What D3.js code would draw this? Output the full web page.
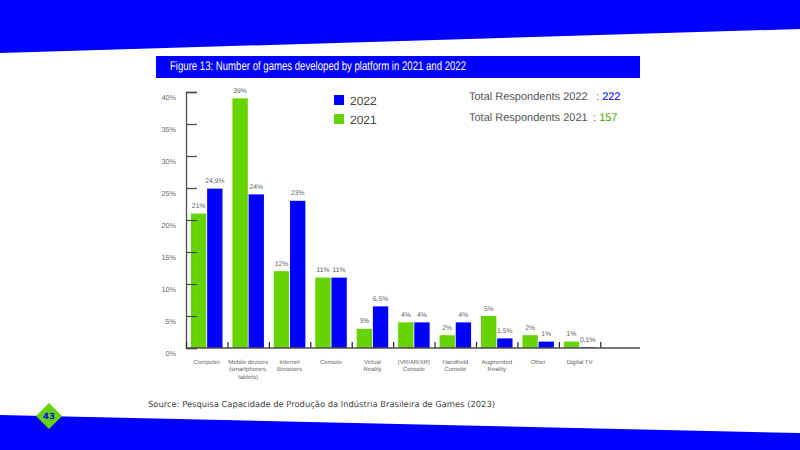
<!DOCTYPE html>
<html>
<head>
<meta charset="utf-8">
<script src="https://cdn.jsdelivr.net/npm/d3@7"></script>
<style>
html, body { margin: 0; padding: 0; background: #fff; }
svg { display: block; font-family: "Liberation Sans", Arial, sans-serif; text-rendering: geometricPrecision; }
</style>
</head>
<body>
<svg id="chart" width="800" height="450"></svg>
<script>
const categories = [
  ["Computer"],
  ["Mobile devices", "(smartphones,", "tablets)"],
  ["Internet", "Browsers"],
  ["Console"],
  ["Virtual", "Reality"],
  ["(VR/AR/XR)", "Console"],
  ["Handheld", "Console"],
  ["Augmented", "Reality"],
  ["Other"],
  ["Digital TV"]
];
const values2021 = [21, 39, 12, 11, 3, 4, 2, 5, 2, 1];
const values2022 = [24.9, 24, 23, 11, 6.5, 4, 4, 1.5, 1, 0.1];
const labels2021 = ["21%", "39%", "12%", "11%", "3%", "4%", "2%", "5%", "2%", "1%"];
const labels2022 = ["24,9%", "24%", "23%", "11%", "6,5%", "4%", "4%", "1,5%", "1%", "0,1%"];
const yTicks = [0, 5, 10, 15, 20, 25, 30, 35, 40];
const seriesKeys = ["2021", "2022"];
const respondents = [["Total Respondents 2022", "222"], ["Total Respondents 2021", "157"]];

const BLUE = "#0000ff";
const GREEN = "#66d400";
const AXIS = "#4d4d4d";
const LABEL = "#666666";

const svg = d3.select("#chart");

// Slanted page bands and the page number badge
const bandLine = d3.line();
svg.append("path").attr("fill", BLUE)
  .attr("d", bandLine([[0, 0], [800, 0], [800, 29], [0, 53]]) + "Z");
svg.append("path").attr("fill", BLUE)
  .attr("d", bandLine([[0, 415], [800, 433], [800, 450], [0, 450]]) + "Z");
svg.append("path").attr("fill", GREEN)
  .attr("d", bandLine([[49, 403], [62, 416], [49, 429], [36, 416]]) + "Z");
svg.append("text").attr("x", 49).attr("y", 419).attr("text-anchor", "middle")
  .attr("fill", BLUE).attr("font-size", 8.5).attr("font-weight", "bold")
  .attr("font-family", "'DejaVu Sans'").text("43");

// Title banner
svg.append("rect").attr("x", 156).attr("y", 56).attr("width", 484).attr("height", 22).attr("fill", BLUE);
svg.append("text").attr("x", 170).attr("y", 69.5).attr("fill", "#fff")
  .attr("font-size", 12.5).attr("textLength", 296).attr("lengthAdjust", "spacingAndGlyphs")
  .text("Figure 13: Number of games developed by platform in 2021 and 2022");

// Scales
const y = d3.scaleLinear().domain([0, 40]).range([348, 92]);
const x0 = d3.scaleBand().domain(d3.range(categories.length)).range([186, 600.3]).paddingInner(0).paddingOuter(0);
const x1 = d3.scaleBand().domain(seriesKeys).range([5, 36.5]).paddingInner(0.05);
const color = d3.scaleOrdinal().domain(seriesKeys).range([GREEN, BLUE]);

// Bars with their value labels
const rows = categories.map((c, i) => ({
  i,
  items: [
    { key: "2021", value: values2021[i], label: labels2021[i] },
    { key: "2022", value: values2022[i], label: labels2022[i] }
  ]
}));
const groups = svg.append("g").selectAll("g").data(rows).join("g")
  .attr("transform", d => `translate(${x0(d.i)},0)`);
groups.selectAll("rect").data(d => d.items).join("rect")
  .attr("x", d => x1(d.key)).attr("width", x1.bandwidth())
  .attr("y", d => y(d.value)).attr("height", d => y(0) - y(d.value))
  .attr("fill", d => color(d.key));
groups.selectAll("text").data(d => d.items).join("text")
  .attr("x", d => x1(d.key) + x1.bandwidth() / 2)
  .attr("y", d => y(d.value) - 5.5)
  .attr("text-anchor", "middle").attr("font-size", 6.8).attr("fill", LABEL)
  .text(d => d.label);

// Vertical axis: ticks run inward, labels sit a little below each tick
const yAxis = d3.axisRight(y).tickValues(yTicks).tickSize(11).tickSizeOuter(11).tickFormat(d => d + "%");
const yG = svg.append("g").attr("transform", "translate(186,0)").call(yAxis);
yG.selectAll("path, line").attr("stroke", AXIS).attr("stroke-width", 1.3);
yG.selectAll("text").attr("x", -10).attr("dy", "1.05em").attr("text-anchor", "end")
  .attr("font-size", 7.2).attr("font-family", "'Liberation Sans'").attr("fill", LABEL);

// Horizontal axis: short ticks between groups, baseline continues past the last group
const xAxis = d3.axisTop(d3.scaleLinear().domain([0, 10]).range([186, 600.3]))
  .ticks(10).tickSize(6).tickSizeOuter(0).tickFormat("");
const xG = svg.append("g").attr("transform", "translate(0,348)").call(xAxis);
xG.selectAll("line").attr("stroke", "#222").attr("stroke-width", 1.2);
xG.select("path").attr("stroke", "none");
svg.append("line").attr("x1", x0.range()[0]).attr("x2", 640).attr("y1", y(0)).attr("y2", y(0))
  .attr("stroke", AXIS).attr("stroke-width", 1.3);

// Category labels
const catLabels = svg.append("g").selectAll("text").data(categories).join("text")
  .attr("text-anchor", "middle").attr("font-size", 6).attr("fill", LABEL)
  .attr("transform", (d, i) => `translate(${x0(i) + x0.bandwidth() / 2},364)`);
catLabels.selectAll("tspan").data(d => d).join("tspan")
  .attr("x", 0).attr("y", (d, i) => i * 7.4).text(d => d);

// Legend
const legendY = d3.scalePoint().domain(["2022", "2021"]).range([100, 119]);
const legend = svg.append("g").selectAll("g").data(legendY.domain()).join("g")
  .attr("transform", d => `translate(334,${legendY(d)})`);
legend.append("rect").attr("y", -5).attr("width", 10).attr("height", 10).attr("fill", d => color(d));
legend.append("text").attr("x", 16).attr("y", 4.5).attr("font-size", 12).attr("fill", "#444").text(d => d);

// Respondent counts
const respColors = [BLUE, "#4f9a00"];
const respX = [596, 593];
const resp = svg.append("g").selectAll("text").data(respondents).join("text")
  .attr("x", 469).attr("y", (d, i) => 100 + i * 21).attr("font-size", 11).attr("fill", "#555");
resp.append("tspan").text(d => d[0]);
resp.append("tspan").attr("x", (d, i) => respX[i]).text(d => ": ");
resp.append("tspan").attr("fill", (d, i) => respColors[i]).text(d => d[1]);

// Source line
svg.append("text").attr("x", 148).attr("y", 407).attr("font-size", 8.4).attr("fill", "#444")
  .attr("font-family", "'DejaVu Sans'").attr("textLength", 347).attr("lengthAdjust", "spacing")
  .text("Source: Pesquisa Capacidade de Produção da Indústria Brasileira de Games (2023)");
</script>
</body>
</html>
